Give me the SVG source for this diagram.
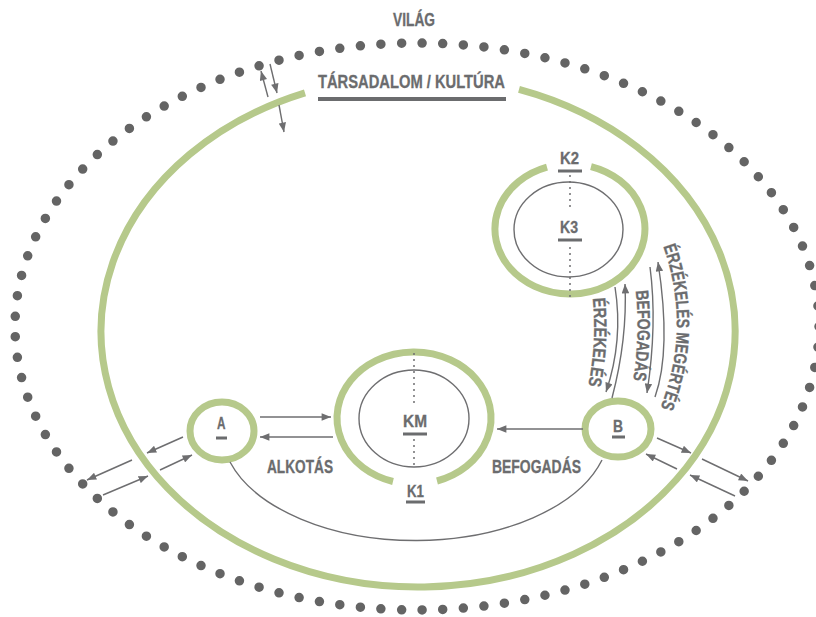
<svg xmlns="http://www.w3.org/2000/svg" width="816" height="617" viewBox="0 0 816 617">
<style>
.t{font-family:"Liberation Sans",Arial,sans-serif;font-weight:700;fill:#6b6c6e;font-size:18px;stroke:#6b6c6e;stroke-width:0.3}
.s{font-size:16px}
.g{fill:none;stroke:#b6c98b;stroke-width:7}
.thin{fill:none;stroke:#6e6e70;stroke-width:1.4}
.dot{fill:none;stroke:#6e6e70;stroke-width:2;stroke-linecap:round;stroke-dasharray:0 6}
.bar{fill:#6b6c6e}
.ar{fill:none;stroke:#6e6e70;stroke-width:1.4;marker-end:url(#ah)}
</style>
<defs>
<marker id="ah" viewBox="0 0 10 8" refX="10" refY="4" markerWidth="10" markerHeight="7.5" markerUnits="userSpaceOnUse" orient="auto"><path d="M0 0 L10 4 L0 8 z" fill="#6e6e70"/></marker>
<path id="p1" d="M592 292 Q598 340 587 392"/>
<path id="p2" d="M635 283 Q641 335 632 388"/>
<path id="p3" d="M661 240 Q694 327 658 414"/>
</defs>
<rect width="816" height="617" fill="#fff"/>
<g id="world">
<ellipse cx="417" cy="326.5" rx="402" ry="283.5" pathLength="105" fill="none" stroke="#646464" stroke-width="9.5" stroke-linecap="round" stroke-dasharray="0 1"/>
<text class="t" x="393" y="26" textLength="42" lengthAdjust="spacingAndGlyphs">VILÁG</text>
</g>
<g id="society">
<path class="g" d="M519 89.3 A317 255.5 0 1 1 305 92.8"/>
<text class="t" x="318" y="88" textLength="187" lengthAdjust="spacingAndGlyphs">TÁRSADALOM / KULTÚRA</text>
<rect class="bar" x="318" y="97" width="188" height="4"/>
</g>
<g id="node-K2">
<path class="g" d="M591 166.6 A75 65 0 1 1 547 167.1"/>
<text class="t s" x="560" y="164" textLength="19" lengthAdjust="spacingAndGlyphs">K2</text>
<rect class="bar" x="558" y="169.5" width="24" height="3"/>
<line class="dot" x1="570" y1="176" x2="570" y2="212"/>
<line class="dot" x1="570" y1="248" x2="570" y2="297"/>
</g>
<g id="node-K3">
<ellipse class="thin" cx="568.5" cy="229.5" rx="54.5" ry="47.5"/>
<text class="t s" x="560" y="233" textLength="18" lengthAdjust="spacingAndGlyphs">K3</text>
<rect class="bar" x="558" y="238.5" width="24" height="3"/>
</g>
<g id="node-K1">
<path class="g" d="M393 481.5 A77 66 0 1 1 437 481"/>
<text class="t s" x="407" y="497" textLength="17" lengthAdjust="spacingAndGlyphs">K1</text>
<rect class="bar" x="406" y="500.5" width="19" height="3"/>
<line class="dot" x1="414" y1="354" x2="414" y2="408"/>
<line class="dot" x1="414" y1="440" x2="414" y2="467"/>
</g>
<g id="node-KM">
<ellipse class="thin" cx="414" cy="418.5" rx="55" ry="48.5"/>
<text class="t s" x="403" y="427" textLength="24" lengthAdjust="spacingAndGlyphs">KM</text>
<rect class="bar" x="403" y="432.5" width="24" height="3"/>
</g>
<g id="node-A">
<ellipse class="g" cx="222" cy="431" rx="32" ry="29"/>
<text class="t s" x="217" y="429" textLength="8.5" lengthAdjust="spacingAndGlyphs">A</text>
<rect class="bar" x="216" y="436.5" width="11" height="3"/>
</g>
<g id="node-B">
<ellipse class="g" cx="618" cy="429" rx="33" ry="28"/>
<text class="t s" x="613" y="432" textLength="10" lengthAdjust="spacingAndGlyphs">B</text>
<rect class="bar" x="612" y="435.5" width="13" height="3"/>
</g>
<g id="connectors">
<path class="ar" d="M260 417 L331 417"/>
<path class="ar" d="M333 437 L260 437"/>
<path class="ar" d="M583 429 L497 429"/>
<path class="thin" d="M230 462 A194 111 0 0 0 602 460"/>
<path class="ar" d="M183 437 L147 453"/>
<path class="ar" d="M132 460 L87 480"/>
<path class="ar" d="M103 495 L148 476"/>
<path class="ar" d="M160 470 L192 455"/>
<path class="ar" d="M657 438 L691 453"/>
<path class="ar" d="M702 459 L748 481"/>
<path class="ar" d="M735 496 L690 475"/>
<path class="ar" d="M677 469 L646 454"/>
<path class="ar" d="M268 97 L261 71"/>
<path class="ar" d="M270 64 L277 93"/>
<path class="ar" d="M279 105 L284 132"/>
<path class="ar" d="M615 287 Q623.5 340.5 606 392"/>
<path class="ar" d="M612 398 Q627.5 339 625 284"/>
<path class="ar" d="M650 267 Q657.5 324 647 393"/>
<path class="ar" d="M655 397 Q671.5 350.5 658 262"/>
</g>
<g id="labels">
<text class="t" x="267" y="473" textLength="66" lengthAdjust="spacingAndGlyphs">ALKOTÁS</text>
<text class="t" x="492" y="473" textLength="89" lengthAdjust="spacingAndGlyphs">BEFOGADÁS</text>
<text class="t"><textPath href="#p1" startOffset="50%" text-anchor="middle" textLength="88" lengthAdjust="spacingAndGlyphs">ÉRZÉKELÉS</textPath></text>
<text class="t"><textPath href="#p2" startOffset="50%" text-anchor="middle" textLength="90" lengthAdjust="spacingAndGlyphs">BEFOGADÁS</textPath></text>
<text class="t"><textPath href="#p3" startOffset="50%" text-anchor="middle" textLength="165" lengthAdjust="spacingAndGlyphs">ÉRZÉKELÉS MEGÉRTÉS</textPath></text>
</g>
</svg>
